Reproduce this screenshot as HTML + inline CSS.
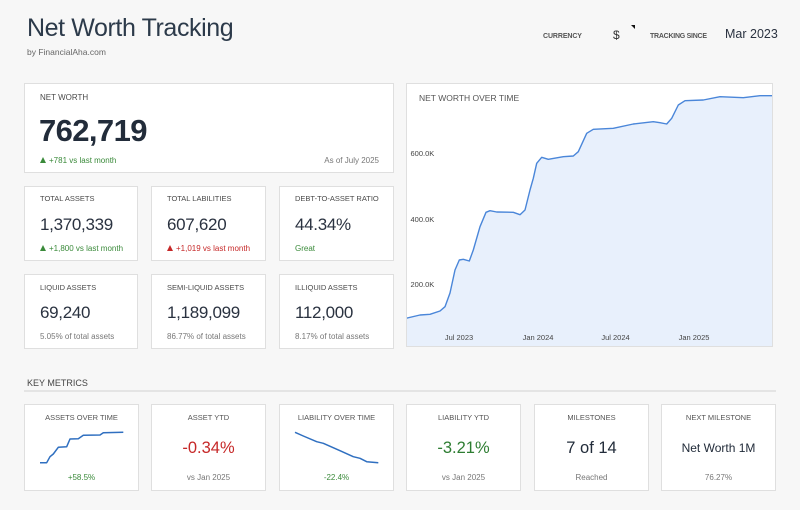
<!DOCTYPE html>
<html><head><meta charset="utf-8">
<style>
*{margin:0;padding:0;box-sizing:border-box}
html,body{width:800px;height:510px;overflow:hidden;background:#f7f7f7}
body{position:relative;font-family:"Liberation Sans",sans-serif;color:#2b3544}
.t{position:absolute;white-space:nowrap;line-height:1}
.card{position:absolute;background:#fff;border:1px solid #dfdfdf}
.lbl{font-size:7.5px;color:#4a4a4a;letter-spacing:0}
.val{font-size:17px;color:#2a3240;letter-spacing:-0.3px}
.sub{font-size:8px;color:#777}
.g{color:#3a8a3a}.r{color:#c62828}
.tri{display:inline-block;width:0;height:0;border-left:3.5px solid transparent;border-right:3.5px solid transparent;border-bottom:6px solid #3a8a3a;margin-right:3px;vertical-align:0px}
.tri.rd{border-bottom-color:#c62828}
.c{text-align:center}
</style></head><body>

<div class="t" style="left:27px;top:16px;font-size:25px;letter-spacing:-0.4px;color:#2c3a4a">Net Worth Tracking</div>
<div class="t" style="left:27px;top:47.8px;font-size:8.5px;color:#666">by FinancialAha.com</div>

<div class="t" style="left:543px;top:33px;font-size:7px;font-weight:bold;color:#555;letter-spacing:-0.1px">CURRENCY</div>
<div class="t" style="left:613px;top:28.8px;font-size:12px;color:#333">$</div>
<svg style="position:absolute;left:631px;top:25px" width="5" height="5"><polygon points="0,0 4,0 4,4" fill="#111"/></svg>
<div class="t" style="left:650px;top:33px;font-size:7px;font-weight:bold;color:#555;letter-spacing:-0.25px">TRACKING SINCE</div>
<div class="t" style="left:725px;top:28.4px;font-size:12.5px;color:#2a3240">Mar 2023</div>

<!-- Net worth card -->
<div class="card" style="left:24px;top:83px;width:370px;height:90px"></div>
<div class="t lbl" style="left:40px;top:94px;font-size:8px">NET WORTH</div>
<div class="t" style="left:39px;top:114.8px;font-size:31px;font-weight:bold;color:#222c3a;letter-spacing:-0.6px">762,719</div>
<div class="t sub g" style="left:40px;top:156.5px"><span class="tri"></span>+781 vs last month</div>
<div class="t sub" style="right:421px;top:156.5px">As of July 2025</div>

<!-- Row 2 -->
<div class="card" style="left:24px;top:186px;width:114px;height:75px"></div>
<div class="card" style="left:151px;top:186px;width:115px;height:75px"></div>
<div class="card" style="left:279px;top:186px;width:115px;height:75px"></div>
<div class="t lbl" style="left:40px;top:195.3px">TOTAL ASSETS</div>
<div class="t val" style="left:40px;top:215.6px">1,370,339</div>
<div class="t sub g" style="left:40px;top:244.9px"><span class="tri"></span>+1,800 vs last month</div>
<div class="t lbl" style="left:167px;top:195.3px">TOTAL LABILITIES</div>
<div class="t val" style="left:167px;top:215.6px">607,620</div>
<div class="t sub r" style="left:167px;top:244.9px"><span class="tri rd"></span>+1,019 vs last month</div>
<div class="t lbl" style="left:295px;top:195.3px">DEBT-TO-ASSET RATIO</div>
<div class="t val" style="left:295px;top:215.6px">44.34%</div>
<div class="t sub g" style="left:295px;top:244.9px">Great</div>

<!-- Row 3 -->
<div class="card" style="left:24px;top:274px;width:114px;height:75px"></div>
<div class="card" style="left:151px;top:274px;width:115px;height:75px"></div>
<div class="card" style="left:279px;top:274px;width:115px;height:75px"></div>
<div class="t lbl" style="left:40px;top:283.6px">LIQUID ASSETS</div>
<div class="t val" style="left:40px;top:303.9px">69,240</div>
<div class="t sub" style="left:40px;top:332.5px">5.05% of total assets</div>
<div class="t lbl" style="left:167px;top:283.6px">SEMI-LIQUID ASSETS</div>
<div class="t val" style="left:167px;top:303.9px">1,189,099</div>
<div class="t sub" style="left:167px;top:332.5px">86.77% of total assets</div>
<div class="t lbl" style="left:295px;top:283.6px">ILLIQUID ASSETS</div>
<div class="t val" style="left:295px;top:303.9px">112,000</div>
<div class="t sub" style="left:295px;top:332.5px">8.17% of total assets</div>

<!-- Chart card -->
<div class="card" style="left:406px;top:83px;width:367px;height:264px"></div>

<!-- Key metrics -->
<div class="t" style="left:27px;top:379.1px;font-size:9px;color:#444">KEY METRICS</div>
<div style="position:absolute;left:24px;top:390px;width:752px;height:2px;background:#e4e4e4"></div>

<div class="card" style="left:24px;top:404px;width:115px;height:87px"></div>
<div class="card" style="left:151px;top:404px;width:115px;height:87px"></div>
<div class="card" style="left:279px;top:404px;width:115px;height:87px"></div>
<div class="card" style="left:406px;top:404px;width:115px;height:87px"></div>
<div class="card" style="left:534px;top:404px;width:115px;height:87px"></div>
<div class="card" style="left:661px;top:404px;width:115px;height:87px"></div>

<svg style="position:absolute;left:0;top:0" width="800" height="510">
<defs><clipPath id="cc"><rect x="407" y="84" width="365" height="262"/></clipPath></defs>
<g clip-path="url(#cc)">
<polygon fill="#e8f0fc" points="406,318.3 420,315 430,314.3 440,311 445,306.7 450,293 455,270 459.3,260 463.3,259.3 469.3,261 473.3,250 480,226.7 486,212.3 490,210.7 496.7,212 513.3,212.3 520,214.7 525,210 530,190 533.3,178.3 536.7,163.3 541.7,157.3 548.3,159.3 563.3,156.7 573.3,156 578.3,151.7 586.7,133.3 593.3,129.3 613.3,128.3 633.3,124 653.3,121.7 660,122.7 666.7,124 671.7,118.3 678.3,105 685,100.7 703.3,100 720,96.7 743.3,97.7 760,95.7 773,95.7 773,347 406,347"/>
<polyline fill="none" stroke="#4a86d9" stroke-width="1.4" stroke-linejoin="round" stroke-linecap="round" points="406,318.3 420,315 430,314.3 440,311 445,306.7 450,293 455,270 459.3,260 463.3,259.3 469.3,261 473.3,250 480,226.7 486,212.3 490,210.7 496.7,212 513.3,212.3 520,214.7 525,210 530,190 533.3,178.3 536.7,163.3 541.7,157.3 548.3,159.3 563.3,156.7 573.3,156 578.3,151.7 586.7,133.3 593.3,129.3 613.3,128.3 633.3,124 653.3,121.7 660,122.7 666.7,124 671.7,118.3 678.3,105 685,100.7 703.3,100 720,96.7 743.3,97.7 760,95.7 773,95.7"/>
</g>
<polyline fill="none" stroke="#2f6fc0" stroke-width="1.5" stroke-linejoin="round" points="40,462.7 46.7,462.7 50,456.7 53.3,454 58.3,447.3 66.7,446.7 70,439 78.3,438.7 83.3,435.3 100,435 103.3,432.7 123.3,432.3"/>
<polyline fill="none" stroke="#2f6fc0" stroke-width="1.5" stroke-linejoin="round" points="295,432.3 303.3,436 316.7,441.7 323.3,443.3 340,450.7 353.3,456.7 360,458.3 366.7,461.7 378.3,462.7"/>
</svg>

<div class="t" style="left:419px;top:93.8px;font-size:8.5px;color:#555">NET WORTH OVER TIME</div>
<div class="t" style="left:410.5px;top:150.4px;font-size:7.5px;color:#444">600.0K</div>
<div class="t" style="left:410.5px;top:216px;font-size:7.5px;color:#444">400.0K</div>
<div class="t" style="left:410.5px;top:281.4px;font-size:7.5px;color:#444">200.0K</div>
<div class="t c" style="left:429px;width:60px;top:333.9px;font-size:7.5px;color:#444">Jul 2023</div>
<div class="t c" style="left:508px;width:60px;top:333.9px;font-size:7.5px;color:#444">Jan 2024</div>
<div class="t c" style="left:585.5px;width:60px;top:333.9px;font-size:7.5px;color:#444">Jul 2024</div>
<div class="t c" style="left:664px;width:60px;top:333.9px;font-size:7.5px;color:#444">Jan 2025</div>

<div class="t lbl c" style="left:24px;width:115px;top:413.6px;color:#555">ASSETS OVER TIME</div>
<div class="t sub c g" style="left:24px;width:115px;top:473.9px">+58.5%</div>

<div class="t lbl c" style="left:151px;width:115px;top:413.6px;color:#555">ASSET YTD</div>
<div class="t c r" style="left:151px;width:115px;top:440.3px;font-size:16.5px">-0.34%</div>
<div class="t sub c" style="left:151px;width:115px;top:473.9px">vs Jan 2025</div>

<div class="t lbl c" style="left:279px;width:115px;top:413.6px;color:#555">LIABILITY OVER TIME</div>
<div class="t sub c g" style="left:279px;width:115px;top:473.9px">-22.4%</div>

<div class="t lbl c" style="left:406px;width:115px;top:413.6px;color:#555">LIABILITY YTD</div>
<div class="t c" style="left:406px;width:115px;top:440.3px;font-size:16.5px;color:#2e7d32">-3.21%</div>
<div class="t sub c" style="left:406px;width:115px;top:473.9px">vs Jan 2025</div>

<div class="t lbl c" style="left:534px;width:115px;top:413.6px;color:#555">MILESTONES</div>
<div class="t c" style="left:534px;width:115px;top:440.3px;font-size:16.5px;color:#222c3a">7 of 14</div>
<div class="t sub c" style="left:534px;width:115px;top:473.9px">Reached</div>

<div class="t lbl c" style="left:661px;width:115px;top:413.6px;color:#555">NEXT MILESTONE</div>
<div class="t c" style="left:661px;width:115px;top:441.5px;font-size:12px;color:#222c3a">Net Worth 1M</div>
<div class="t sub c" style="left:661px;width:115px;top:473.9px">76.27%</div>

</body></html>
